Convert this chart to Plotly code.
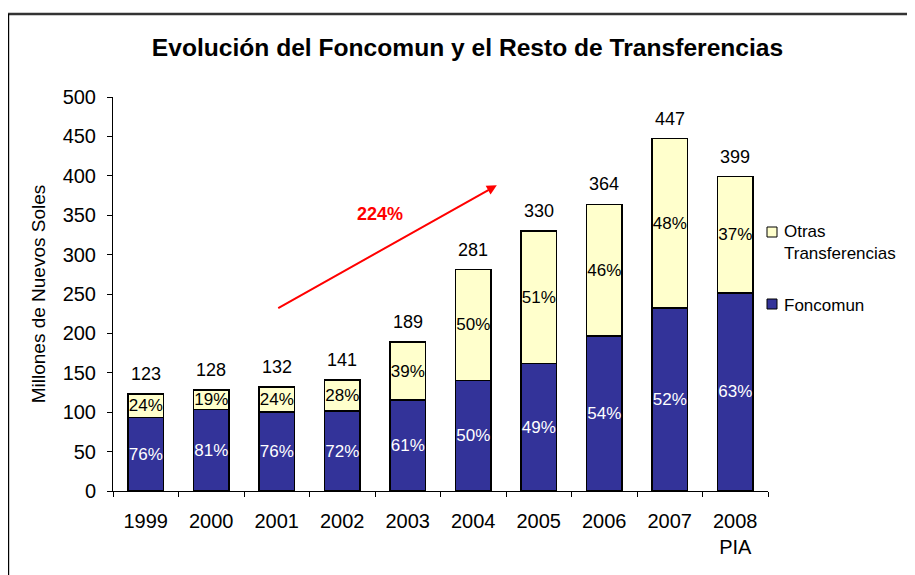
import plotly.graph_objects as go

years = ["1999", "2000", "2001", "2002", "2003", "2004", "2005", "2006", "2007", "2008<br>PIA"]
totals = [123, 128, 132, 141, 189, 281, 330, 364, 447, 399]
foncomun = [93.5, 103.7, 100.3, 101.5, 115.3, 140.5, 161.7, 196.6, 232.4, 251.4]
otras = [29.5, 24.3, 31.7, 39.5, 73.7, 140.5, 168.3, 167.4, 214.6, 147.6]
pct_foncomun = ["76%", "81%", "76%", "72%", "61%", "50%", "49%", "54%", "52%", "63%"]
pct_otras = ["24%", "19%", "24%", "28%", "39%", "50%", "51%", "46%", "48%", "37%"]
y_ticks = [0, 50, 100, 150, 200, 250, 300, 350, 400, 450, 500]

FONT = "Liberation Sans, Arial, sans-serif"
OFF = 8  # page body margin
W, H = 915 - OFF, 575 - OFF
# plot area in page pixels
L, R, T, B = 113, 768, 97, 491

def px(x):
    return (x - L) / (R - L)

def py(y):
    return (B - y) / (B - T)

fig = go.Figure()
fig.add_trace(go.Bar(
    x=years, y=foncomun, name="Foncomun",
    marker=dict(color="#333399", line=dict(color="black", width=1.3)),
    text=pct_foncomun, textposition="inside", insidetextanchor="middle", textangle=0,
    textfont=dict(color="white", size=17, family=FONT), width=0.54, showlegend=False,
))
fig.add_trace(go.Bar(
    x=years, y=otras, name="Otras Transferencias",
    marker=dict(color="#FFFFCC", line=dict(color="black", width=1.3)),
    text=pct_otras, textposition="inside", insidetextanchor="middle", textangle=0,
    textfont=dict(color="black", size=17, family=FONT), width=0.54, showlegend=False,
))

for i, tot in enumerate(totals):
    fig.add_annotation(x=i, y=tot, xref="x", yref="y", text=str(tot), showarrow=False,
                       yanchor="middle", yshift=20, font=dict(size=18, color="black", family=FONT))

fig.update_layout(
    width=W, height=H,
    margin=dict(l=L - OFF, r=915 - R, t=T - OFF, b=575 - B),
    barmode="stack",
    plot_bgcolor="white", paper_bgcolor="white",
    font=dict(family=FONT, color="black"),
    title=dict(text="<b>Evolución del Foncomun y el Resto de Transferencias</b>",
               x=px(467.5), xanchor="center", xref="paper", y=1 - (47 - OFF) / H, yanchor="middle",
               font=dict(size=24.6, family=FONT, color="black")),
    uniformtext=dict(minsize=17, mode="show"),
    showlegend=False,
)
fig.update_xaxes(
    type="category", range=[-0.5, len(years) - 0.5], showline=True, linecolor="black", linewidth=1,
    ticks="outside", tickson="boundaries", ticklen=5, tickcolor="black", tickangle=0,
    tickfont=dict(size=20, family=FONT), showgrid=False, ticklabelstandoff=12,
)
fig.update_yaxes(
    range=[0, 500], tickvals=y_ticks, showline=True, linecolor="black", linewidth=1,
    ticks="outside", ticklen=5, tickcolor="black", showgrid=False, zeroline=False,
    tickfont=dict(size=20, family=FONT), ticklabelstandoff=7,
    title=dict(text="Millones de Nuevos Soles", font=dict(size=19, family=FONT), standoff=11),
)

# arrow and growth label
fig.add_annotation(x=5.36, y=388, ax=2.0, ay=231, xref="x", yref="y", axref="x", ayref="y",
                   showarrow=True, arrowhead=2, arrowsize=1, arrowwidth=2, arrowcolor="#FF0000", text="")
fig.add_annotation(x=3.58, y=351, xref="x", yref="y", text="<b>224%</b>", showarrow=False,
                   font=dict(size=18, color="#FF0000", family=FONT))

# manual legend
legend_items = [("Otras<br>Transferencias", "#FFFFCC", 232, 242.5),
                ("Foncomun", "#333399", 304, 305)]
for label, color, sq_c, txt_c in legend_items:
    fig.add_shape(type="rect", xref="paper", yref="paper",
                  x0=px(767), x1=px(777), y0=py(sq_c + 5), y1=py(sq_c - 5),
                  fillcolor=color, line=dict(color="black", width=1))
    fig.add_annotation(x=px(782), y=py(txt_c), xref="paper", yref="paper", text=label,
                       showarrow=False, xanchor="left", yanchor="middle", align="left",
                       font=dict(size=17, family=FONT, color="black"))

# frame lines
fig.add_shape(type="line", xref="paper", yref="paper", x0=px(8), x1=px(915), y0=py(14), y1=py(14),
              line=dict(color="#333333", width=2.5))
fig.add_shape(type="line", xref="paper", yref="paper", x0=px(8.6), x1=px(8.6), y0=py(14), y1=py(575),
              line=dict(color="black", width=1.2))

fig.write_html("out.html")
